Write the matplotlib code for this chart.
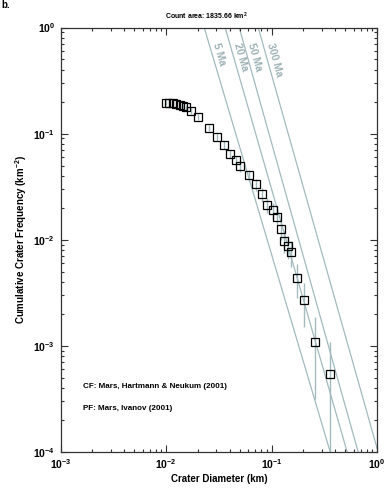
import numpy as np
import matplotlib
matplotlib.use("Agg")
import matplotlib.pyplot as plt
from matplotlib.ticker import LogLocator, FuncFormatter, NullFormatter

plt.rcParams['font.family'] = ['Liberation Sans', 'DejaVu Sans']
plt.rcParams['font.weight'] = 'bold'
plt.rcParams['mathtext.fontset'] = 'custom'
plt.rcParams['mathtext.bf'] = 'Liberation Sans:bold'
plt.rcParams['mathtext.rm'] = 'Liberation Sans:bold'
plt.rcParams['mathtext.default'] = 'bf'

# crater counts (cumulative)
area = 1835.66
diam = [0.00993, 0.01074, 0.01156, 0.01245, 0.01358, 0.01459, 0.01549, 0.01726,
        0.02023, 0.02541, 0.03041, 0.03573, 0.04064, 0.04613, 0.05058, 0.06124,
        0.07129, 0.08128, 0.09120, 0.1026, 0.1119, 0.1230, 0.1321, 0.1432,
        0.1531, 0.1734, 0.2032, 0.2564, 0.3589]
ncum = [359, 356, 354, 349, 342, 334, 325, 300, 263, 209, 169, 143, 118, 104,
        90, 75, 61, 49, 39, 35, 30, 23, 18, 16, 14, 8, 5, 2, 1]

# isochrons: N(D) = a * D**b
iso_label = ['5 Ma', '20 Ma', '50 Ma', '300 Ma']
iso_a = [3.24e-6, 1.04e-5, 2.30e-5, 1.08e-4]
iso_b = [-3.35, -3.46, -3.55, -3.52]

iso_col = '#a3babe'
txt_col = '#9db1b5'

d = np.array(diam)
n = np.array(ncum, dtype=float)
freq = n / area
hi = (n + np.sqrt(n)) / area
lo = np.clip(n - np.sqrt(n), 1e-3, None) / area

fig = plt.figure(figsize=(3.88, 4.93), dpi=100)
ax = fig.add_axes([0.156, 0.0832, 0.816, 0.861])
ax.set_xscale('log')
ax.set_yscale('log')
ax.set_xlim(1e-3, 1)
ax.set_ylim(1e-4, 1)

dd = np.logspace(-3, 0, 200)
for lab, a, b in zip(iso_label, iso_a, iso_b):
    ax.plot(dd, a * dd ** b, color=iso_col, lw=0.9, zorder=1)
    yl = 10 ** -0.15
    xl = (yl / a) ** (1.0 / b)
    ang = np.degrees(np.arctan(b * 106.1 / 105.5))
    ax.annotate(lab, (xl, yl), xytext=(5, 0), textcoords='offset points',
                rotation=ang, rotation_mode='anchor', ha='left', va='center',
                color=txt_col, fontsize=7.5, fontweight='bold')

ax.vlines(d, lo, hi, color=iso_col, lw=1.0, zorder=2)
ax.plot(d, freq, 's', mfc='none', mec='black', mew=0.9, ms=6.4, zorder=3)

ax.text(0.07, 0.155, 'CF: Mars, Hartmann & Neukum (2001)', transform=ax.transAxes,
        fontsize=5.8, va='center')
ax.text(0.07, 0.102, 'PF: Mars, Ivanov (2001)', transform=ax.transAxes,
        fontsize=5.8, va='center')

fmt = FuncFormatter(lambda v, p: '$\\mathbf{10^{%d}}$' % int(round(np.log10(v))))
ax.xaxis.set_major_locator(LogLocator(base=10, numticks=10))
ax.yaxis.set_major_locator(LogLocator(base=10, numticks=10))
ax.xaxis.set_minor_locator(LogLocator(base=10, subs=np.arange(2, 10), numticks=10))
ax.yaxis.set_minor_locator(LogLocator(base=10, subs=np.arange(2, 10), numticks=10))
ax.xaxis.set_major_formatter(fmt)
ax.yaxis.set_major_formatter(fmt)
ax.xaxis.set_minor_formatter(NullFormatter())
ax.yaxis.set_minor_formatter(NullFormatter())
ax.tick_params(which='both', direction='in', top=True, right=True,
               labelsize=7.5, color='#333333', width=0.8)
ax.tick_params(which='major', length=5, pad=4)
ax.tick_params(which='minor', length=2.5)
for s in ax.spines.values():
    s.set_color('#333333')
    s.set_linewidth(0.9)

ax.set_xlabel('Crater Diameter (km)', fontsize=7, fontweight='bold', labelpad=2)
ax.set_ylabel('Cumulative Crater Frequency (km$^{-2}$)', fontsize=7,
              fontweight='bold', labelpad=3)

fig.text(206 / 388, 1 - 16 / 493, 'Count area: 1835.66 km$^2$', ha='center',
         va='center', fontsize=5, fontweight='bold')
fig.text(0.003, 1.0, 'b.', ha='left', va='top', fontsize=7)

fig.savefig('out.png', dpi=100)
